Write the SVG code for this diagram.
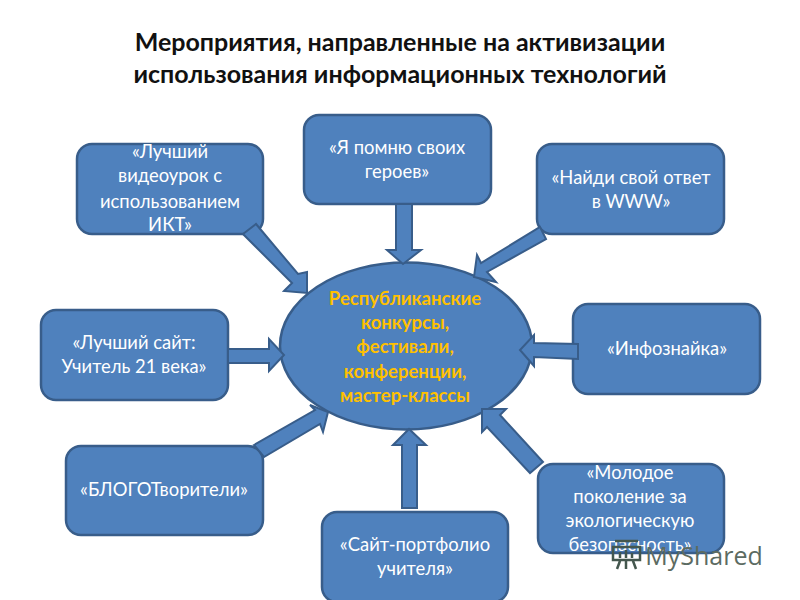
<svg xmlns="http://www.w3.org/2000/svg" width="800" height="600" viewBox="0 0 800 600">
<style>
text{font-family:Lato,"Noto Sans",sans-serif;text-anchor:middle}
.n{fill:#4f81bd;stroke:#385d8a;stroke-width:2.5}
.a{fill:#4f81bd;stroke:#385d8a;stroke-width:2;stroke-linejoin:miter}
.t{fill:#fff;font-size:18.4px}
.c{fill:#ffc000;font-size:18.5px;font-weight:700}
.h{fill:#111;font-size:25px;font-weight:700}
</style>
<rect width="800" height="600" fill="#fff"/>
<g id="title">
<text class="h" x="400" y="51">Мероприятия, направленные на активизации</text>
<text class="h" x="400" y="83">использования информационных технологий</text>
</g>
<g id="center"><ellipse class="n" cx="406" cy="346" rx="126" ry="83.500"/>
<text class="c" x="405" y="305">Республиканские</text>
<text class="c" x="405" y="329">конкурсы,</text>
<text class="c" x="405" y="353">фестивали,</text>
<text class="c" x="405" y="378">конференции,</text>
<text class="c" x="405" y="402">мастер-классы</text></g>
<g id="n1"><rect class="n" x="77" y="144" width="186" height="90" rx="15"/>
<text class="t" x="170" y="158">«Лучший</text><text class="t" x="170" y="182">видеоурок с</text><text class="t" x="170" y="208">использованием</text><text class="t" x="170" y="231">ИКТ»</text></g>
<g id="n2"><rect class="n" x="304" y="115" width="187" height="89" rx="15"/>
<text class="t" x="397" y="154">«Я помню своих</text><text class="t" x="397" y="178">героев»</text></g>
<g id="n3"><rect class="n" x="537" y="144" width="187" height="90" rx="15"/>
<text class="t" x="631" y="184">«Найди свой ответ</text><text class="t" x="631" y="208">в WWW»</text></g>
<g id="n4"><rect class="n" x="573" y="304" width="187" height="90" rx="15"/>
<text class="t" x="667" y="355">«Инфознайка»</text></g>
<g id="n5"><rect class="n" x="41" y="310" width="187" height="90" rx="15"/>
<text class="t" x="134" y="349">«Лучший сайт:</text><text class="t" x="134" y="373">Учитель 21 века»</text></g>
<g id="n6"><rect class="n" x="66" y="446" width="197" height="89" rx="15"/>
<text class="t" x="164" y="496">«БЛОГОТворители»</text></g>
<g id="n7"><rect class="n" x="322" y="512" width="186" height="90" rx="15"/>
<text class="t" x="415" y="551">«Сайт-портфолио</text><text class="t" x="415" y="575">учителя»</text></g>
<g id="n8"><rect class="n" x="538" y="464" width="186" height="89" rx="15"/>
<text class="t" x="630" y="479">«Молодое</text><text class="t" x="630" y="503">поколение за</text><text class="t" x="630" y="527">экологическую</text><text class="t" x="630" y="551">безопасность»</text></g>
<g id="connectors">
<polygon class="a" points="243,234 256,224 298,274 307,272 307,293 284,291 292,283"/>
<polygon class="a" points="396,204 412,204 412,250 421,250 403,264 387,250 396,250"/>
<polygon class="a" points="540,227 546,239 487,272 496,282 474,277 477,255 481,263"/>
<polygon class="a" points="578,344 578,359 534,357 534,366 520,350 534,335 534,343"/>
<polygon class="a" points="228,349 269,349 269,339 284,355 269,371 269,363 228,363"/>
<polygon class="a" points="254,445 315,410 310,405 328,412 323,432 320,424 264,457"/>
<polygon class="a" points="402,508 402,445 393,445 409,429 426,445 417,445 417,508"/>
<polygon class="a" points="543,462 500,415 506,409 482,409 482,432 487,427 530,473"/>
</g>
<g id="watermark">
<path d="M615 541H638M613 547H640V560H613ZM620 552v6M626 550v8M632 553v5M620 561l-3 8M626 561v8M633 561l3 8" fill="none" stroke="#44574e" stroke-width="2.500"/>
<text x="704" y="565" font-size="25" fill="#5c6b62" style="font-family:'Open Sans',sans-serif">MyShared</text>
</g>
</svg>
